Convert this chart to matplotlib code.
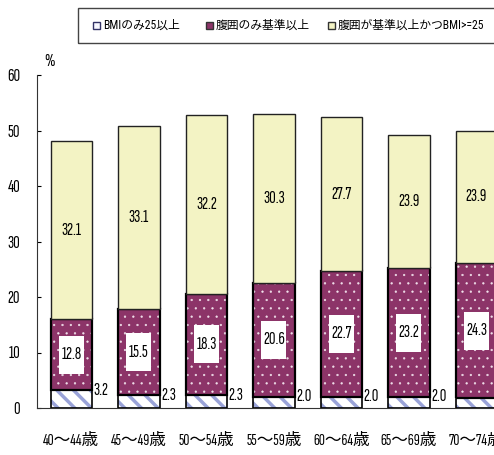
import matplotlib.pyplot as plt
from matplotlib.patches import Rectangle

NUM_FONT = ["Sofia Sans Extra Condensed", "Noto Sans CJK JP", "DejaVu Sans"]
LEG_FONT = ["Roboto Condensed", "Noto Sans CJK JP", "DejaVu Sans"]
plt.rcParams["font.family"] = NUM_FONT

ages = ["40～44歳", "45～49歳", "50～54歳", "55～59歳", "60～64歳", "65～69歳", "70～74歳"]
bmi_only = [3.2, 2.3, 2.3, 2.0, 2.0, 2.0, 1.8]
waist_only = [12.8, 15.5, 18.3, 20.6, 22.7, 23.2, 24.3]
both = [32.1, 33.1, 32.2, 30.3, 27.7, 23.9, 23.9]
legend_labels = ["BMIのみ25以上", "腹囲のみ基準以上", "腹囲が基準以上かつBMI>=25"]

PURPLE = "#8c3468"
YELLOW = "#f3f3c4"
BLUE = "#9aa3d8"

fig = plt.figure(figsize=(4.94, 4.55), dpi=100)
ax = fig.add_axes([37 / 494, 1 - 408 / 455, 1 - 37 / 494, 333 / 455])

x = list(range(len(ages)))
w = 0.61
mid_bottom = bmi_only
top_bottom = [a + b for a, b in zip(bmi_only, waist_only)]

# bottom segment: blue stripes on white
with plt.rc_context({"hatch.linewidth": 2.5}):
    ax.bar(x, bmi_only, w, color="white", edgecolor=BLUE, hatch="\\\\", linewidth=0)
ax.bar(x, bmi_only, w, fill=False, edgecolor="black", linewidth=1.2)
# middle segment: purple with small white dots
with plt.rc_context({"hatch.linewidth": 0.4}):
    ax.bar(x, waist_only, w, bottom=mid_bottom, color=PURPLE, edgecolor="#f0e0ea",
           hatch="..", linewidth=0)
ax.bar(x, waist_only, w, bottom=mid_bottom, fill=False, edgecolor="black", linewidth=1.6)
# top segment
ax.bar(x, both, w, bottom=top_bottom, color=YELLOW, edgecolor="#222222", linewidth=1.0)

bw, bh = 0.37, 6.85  # white label boxes on the middle segment
for i in x:
    ax.text(i + w / 2 + 0.02, bmi_only[i], f"{bmi_only[i]:.1f}", ha="left", va="center",
            fontsize=13, clip_on=True)
    yc = mid_bottom[i] + waist_only[i] / 2
    ax.add_patch(Rectangle((i - bw / 2, yc - bh / 2), bw, bh, facecolor="white",
                           edgecolor="none", zorder=3))
    ax.text(i, yc, f"{waist_only[i]:.1f}", ha="center", va="center", fontsize=13, zorder=4)
    ax.text(i, top_bottom[i] + both[i] / 2, f"{both[i]:.1f}", ha="center", va="center",
            fontsize=13)

ax.set_xlim(-0.511, 6.26)
ax.set_ylim(0, 60)
ax.set_yticks(range(0, 61, 10))
ax.set_xticks(x)
ax.set_xticklabels(ages, fontsize=12)
ax.tick_params(axis="x", length=0, pad=18)
ax.tick_params(axis="y", direction="in", length=3, pad=12, labelsize=13)
for s in ("top", "right"):
    ax.spines[s].set_visible(False)
ax.spines["left"].set_color("#333333")
ax.spines["bottom"].set_color("#333333")
fig.text(44 / 494, 1 - 62 / 455, "%", fontsize=13, ha="left", va="center")

# legend box (runs off the right edge like the original)
fig.patches.append(Rectangle((78 / 494, 1 - 43 / 455), 0.9, 35 / 455,
                             transform=fig.transFigure, fill=False,
                             edgecolor="#444444", linewidth=1.0))
marks = [(93, "#f8f8ff", "#333366"), (206, PURPLE, "#333333"), (328, YELLOW, "#333333")]
for (mx, fc, ec), lab in zip(marks, legend_labels):
    fig.patches.append(Rectangle((mx / 494, 1 - 29 / 455), 7 / 494, 7 / 455,
                                 transform=fig.transFigure, facecolor=fc,
                                 edgecolor=ec, linewidth=1.0))
    fig.text((mx + 10) / 494, 1 - 25 / 455, lab, fontsize=8.5, ha="left", va="center",
             family=LEG_FONT)

fig.savefig("out.png", dpi=100)
